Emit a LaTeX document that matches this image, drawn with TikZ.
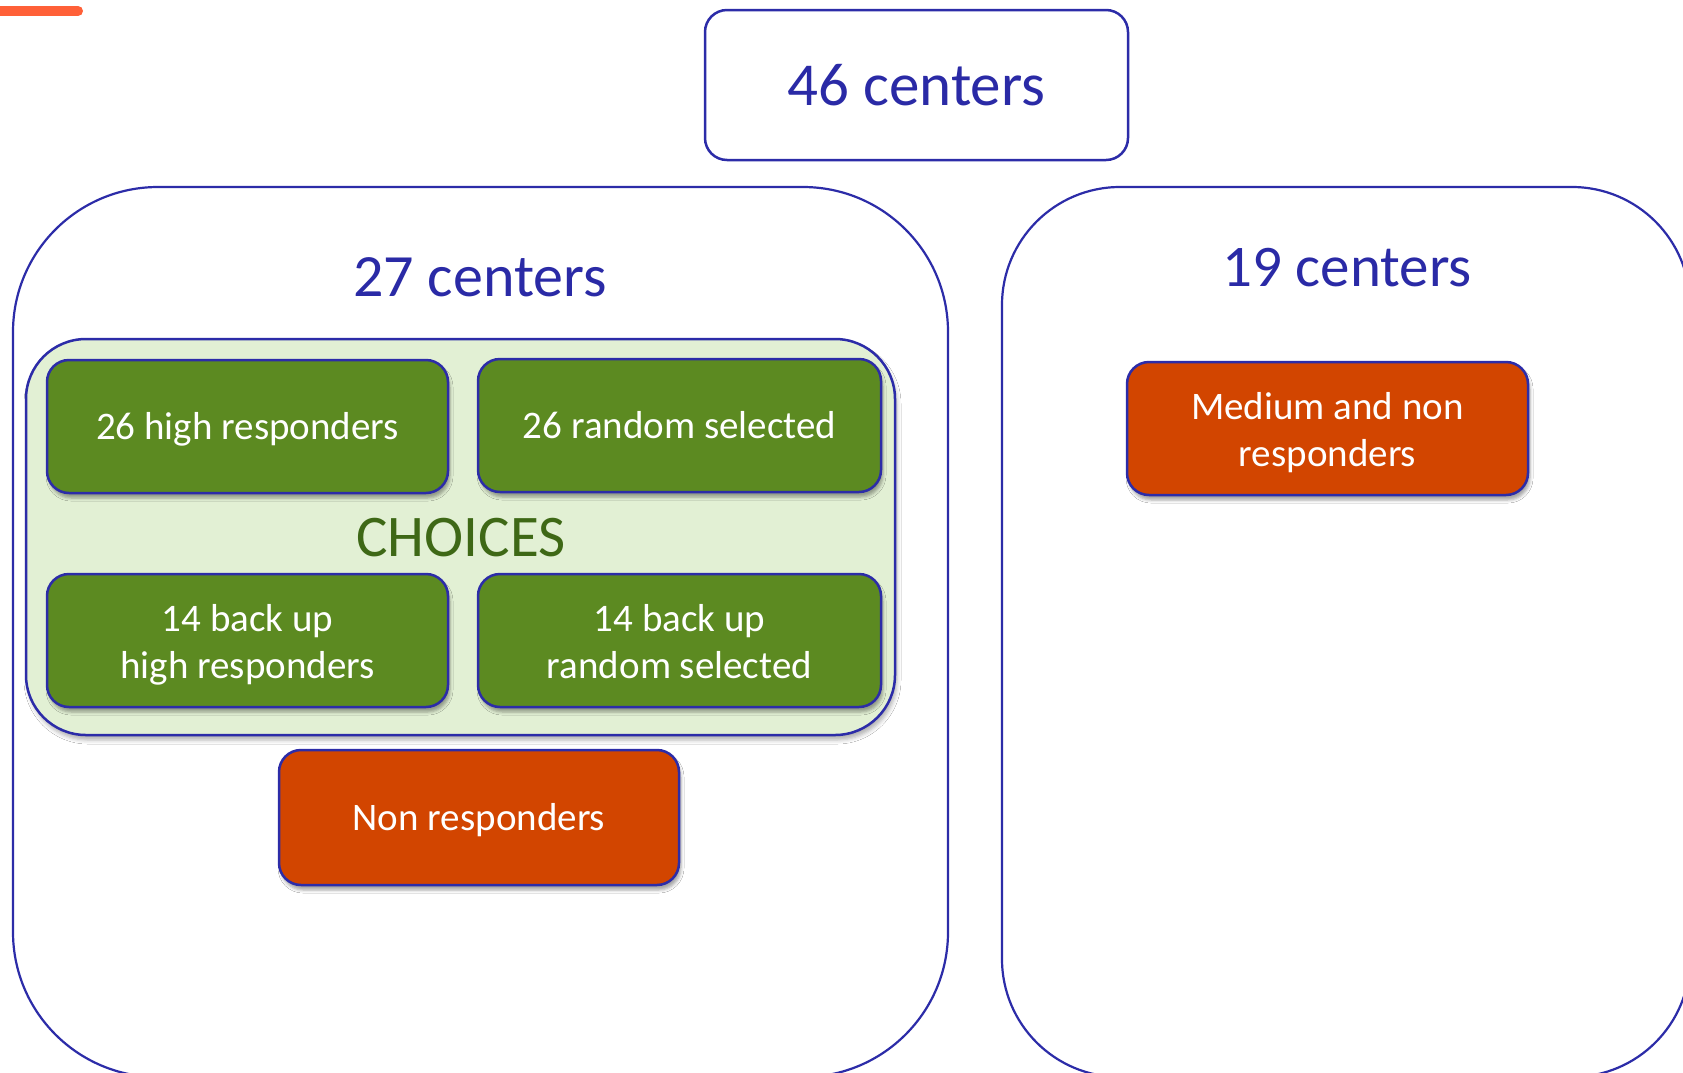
\documentclass[tikz,border=0pt]{standalone}
\usepackage{fontspec}
\setmainfont{Carlito}
\usetikzlibrary{shadows,shadows.blur}
\definecolor{lineblue}{RGB}{44,44,168}
\definecolor{textblue}{RGB}{42,42,166}
\definecolor{boxgreen}{RGB}{92,138,33}
\definecolor{lightgreen}{RGB}{226,240,212}
\definecolor{darkgreen}{RGB}{62,104,22}
\definecolor{boxorange}{RGB}{210,69,0}
\definecolor{accent}{RGB}{255,96,56}
\tikzset{
  bigbox/.style={draw=lineblue, line width=2.2pt, fill=white, rectangle, inner sep=0pt},
  groupbox/.style={draw=lineblue, line width=2.5pt, fill=lightgreen, rectangle, inner sep=0pt, rounded corners=60pt,
    blur shadow={shadow xshift=2pt, shadow yshift=-5pt, shadow blur radius=4pt, shadow opacity=30}},
  greenbox/.style={draw=lineblue, line width=2.5pt, fill=boxgreen, rectangle, rounded corners=22pt,
    minimum width=401pt, minimum height=133pt, inner sep=0pt,
    blur shadow={shadow xshift=2pt, shadow yshift=-5pt, shadow blur radius=3pt, shadow opacity=35}},
  orangebox/.style={greenbox, fill=boxorange},
  onetext/.style={text=white, font=\fontsize{39}{47}\selectfont, inner sep=0pt, text height=36pt, text depth=10pt},
  twotext/.style={text=white, font=\fontsize{39}{47}\selectfont, inner sep=0pt, align=center, yshift=-4pt},
  title/.style={text=textblue, font=\fontsize{60}{70}\selectfont, inner sep=0pt}
}
\begin{document}
\begin{tikzpicture}[x=1pt, y=-1pt]
\path[use as bounding box, fill=white] (0,0) rectangle (1683,1072);
\clip (0,0) rectangle (1683,1072);
% accent bar
\draw[accent, line width=10pt, line cap=round] (-20,11) -- (78,11);
% top box
\node[bigbox, line width=2.5pt, rounded corners=22pt, minimum width=423pt, minimum height=150pt,
  text=textblue, font=\fontsize{61}{72}\selectfont] (top) at (916.5,85) {46 centers};
% big boxes
\node[bigbox, rounded corners=145pt, minimum width=935pt, minimum height=890pt] (left) at (480.5,632) {};
\node[bigbox, rounded corners=118pt, minimum width=688pt, minimum height=890pt] (right) at (1346,632) {};
\node[title] (t27) at (480,277) {27 centers};
\node[title, font=\fontsize{59}{70}\selectfont] (t19) at (1347,268) {19 centers};
% choices group
\node[groupbox, minimum width=869pt, minimum height=396pt] (group) at (460.5,537) {};
\node[text=darkgreen, font=\fontsize{59}{70}\selectfont, inner sep=0pt] (choices) at (461,537.5) {CHOICES};
\node[greenbox] (hr) at (247.5,426.5) {};
\node[onetext] (hrt) at (hr.center) {26 high responders};
\node[greenbox, minimum width=403pt] (rs) at (679.5,425.5) {};
\node[onetext] (rst) at (rs.center) {26 random selected};
\node[greenbox] (bhr) at (247.5,640.5) {};
\node[twotext] (bhrt) at (bhr.center) {14 back up\\ high responders};
\node[greenbox, minimum width=403pt] (brs) at (679.5,640.5) {};
\node[twotext, yshift=3pt] (brst) at (brs.center) {14 back up\\ random selected};
% orange boxes
\node[orangebox, minimum width=400pt, minimum height=135pt] (non) at (479,817.5) {};
\node[onetext] (nont) at (non.center) {Non responders};
\node[orangebox] (med) at (1327.5,428.5) {};
\node[twotext] (medt) at (med.center) {Medium and non\\ responders};
\end{tikzpicture}
\end{document}
